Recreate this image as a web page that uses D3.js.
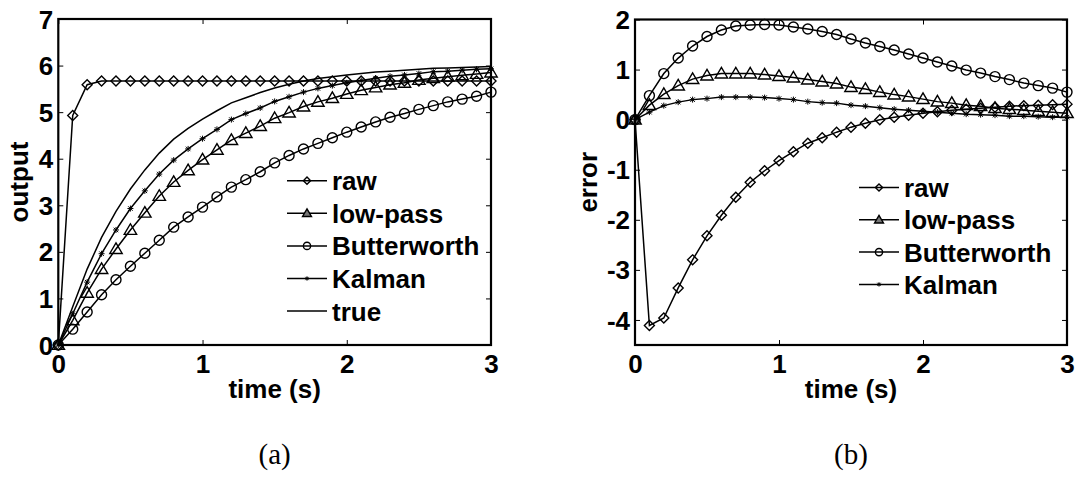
<!DOCTYPE html>
<html><head><meta charset="utf-8">
<script src="https://cdn.jsdelivr.net/npm/d3@7"></script>
<style>
body{margin:0;background:#fff}
svg{display:block}
text{font-family:"Liberation Sans",Arial,sans-serif;font-weight:bold;fill:#000}
text.cap{font-family:"Liberation Serif","Times New Roman",serif;font-weight:normal}
</style>
</head><body>
<svg id="c" width="1076" height="480"></svg>
<script>
// ---- data ----
const time = [0,0.1,0.2,0.3,0.4,0.5,0.6,0.7,0.8,0.9,1.0,1.1,1.2,1.3,1.4,1.5,1.6,1.7,1.8,1.9,2.0,2.1,2.2,2.3,2.4,2.5,2.6,2.7,2.8,2.9,3.0];

// panel (a): output
const rawOut   = [0,4.93,5.59,5.67,5.67,5.67,5.67,5.67,5.67,5.67,5.67,5.67,5.67,5.67,5.67,5.67,5.67,5.67,5.67,5.67,5.67,5.67,5.67,5.67,5.67,5.67,5.67,5.67,5.67,5.67,5.67];
const lowOut   = [0,0.53,1.12,1.63,2.06,2.47,2.84,3.20,3.50,3.75,3.98,4.19,4.40,4.55,4.70,4.87,4.99,5.12,5.22,5.30,5.39,5.47,5.53,5.59,5.63,5.69,5.73,5.76,5.79,5.82,5.85];
const butOut   = [0,0.34,0.71,1.08,1.40,1.69,1.97,2.25,2.53,2.75,2.96,3.18,3.39,3.55,3.72,3.91,4.07,4.21,4.33,4.45,4.57,4.68,4.79,4.89,4.97,5.06,5.14,5.22,5.28,5.34,5.43];
const kalOut   = [0,0.67,1.35,1.96,2.47,2.93,3.31,3.67,3.97,4.21,4.43,4.63,4.84,4.97,5.09,5.23,5.33,5.43,5.51,5.57,5.63,5.68,5.73,5.77,5.80,5.83,5.87,5.88,5.90,5.92,5.93];
const trueOut  = [0,0.82,1.63,2.31,2.87,3.35,3.76,4.12,4.42,4.65,4.85,5.03,5.20,5.31,5.42,5.52,5.60,5.67,5.72,5.76,5.80,5.83,5.86,5.88,5.90,5.92,5.94,5.95,5.96,5.97,5.98];

// panel (b): error
const rawErr   = [0,-4.11,-3.96,-3.36,-2.80,-2.32,-1.91,-1.55,-1.25,-1.02,-0.82,-0.64,-0.47,-0.36,-0.25,-0.15,-0.07,0.00,0.05,0.09,0.13,0.16,0.19,0.21,0.23,0.25,0.27,0.28,0.29,0.30,0.31];
const lowErr   = [0,0.29,0.51,0.68,0.81,0.88,0.92,0.92,0.92,0.90,0.87,0.84,0.80,0.76,0.72,0.65,0.61,0.55,0.50,0.46,0.41,0.36,0.33,0.29,0.27,0.23,0.21,0.19,0.17,0.15,0.13];
const butErr   = [0,0.48,0.92,1.23,1.47,1.66,1.79,1.87,1.89,1.90,1.89,1.85,1.81,1.76,1.70,1.61,1.53,1.46,1.39,1.31,1.23,1.15,1.07,0.99,0.93,0.86,0.80,0.73,0.68,0.63,0.55];
const kalErr   = [0,0.15,0.28,0.35,0.40,0.42,0.45,0.45,0.45,0.44,0.42,0.40,0.36,0.34,0.33,0.29,0.27,0.24,0.21,0.19,0.17,0.15,0.13,0.11,0.10,0.09,0.07,0.07,0.06,0.05,0.05];

const xTicks = [0,1,2,3];
const yTicksA = [0,1,2,3,4,5,6,7];
const yTicksB = [-4,-3,-2,-1,0,1,2];
const namesA = ["raw","low-pass","Butterworth","Kalman","true"];
const namesB = ["raw","low-pass","Butterworth","Kalman"];
const markersA = ["diamond","triangle","circle","star","none"];
const markersB = ["diamond","triangle","circle","star"];
const captions = ["(a)","(b)"];

// ---- drawing ----
const svg = d3.select("#c");
const FONT = '"Liberation Sans",Arial,sans-serif';
const fmt = d => String(d).replace("\u2212","-");

function drawMarker(g, type, x, y, big){
  const k = big ? 1 : 0.72;
  if(type==="diamond"){
    const s = 5*k;
    g.append("path").attr("d",`M${x},${y-s}L${x+s},${y}L${x},${y+s}L${x-s},${y}Z`)
      .attr("fill","none").attr("stroke","#000").attr("stroke-width",1.4);
  } else if(type==="triangle"){
    const w = 6.2*k, h1 = 6.2*k, h2 = 4.4*k;
    g.append("path").attr("d",`M${x},${y-h1}L${x+w},${y+h2}L${x-w},${y+h2}Z`)
      .attr("fill", big ? "none" : "#777").attr("stroke","#000").attr("stroke-width",1.4);
  } else if(type==="circle"){
    g.append("circle").attr("cx",x).attr("cy",y).attr("r",5*k)
      .attr("fill","none").attr("stroke","#000").attr("stroke-width",1.4);
  } else if(type==="star"){
    const s = 3*k;
    g.append("path").attr("d",`M${x-s},${y}L${x+s},${y}M${x},${y-s}L${x},${y+s}M${x-s*0.75},${y-s*0.75}L${x+s*0.75},${y+s*0.75}M${x-s*0.75},${y+s*0.75}L${x+s*0.75},${y-s*0.75}`)
      .attr("fill","none").attr("stroke","#000").attr("stroke-width",1);
  }
}

function panel(opt){
  const x = d3.scaleLinear().domain([0,3]).range([opt.x0,opt.x1]);
  const y = d3.scaleLinear().domain(opt.yDom).range([opt.y1,opt.y0]);
  const g = svg.append("g");

  // series
  opt.series.forEach((s,i)=>{
    const line = d3.line().x((d,j)=>x(time[j])).y(d=>y(d));
    g.append("path").datum(s).attr("d",line)
      .attr("fill","none").attr("stroke","#000").attr("stroke-width",1.5);
    if(opt.markers[i]!=="none"){
      s.forEach((v,j)=>drawMarker(g,opt.markers[i],x(time[j]),y(v),true));
    }
  });

  // axes (MATLAB style box, inward ticks)
  const axB = d3.axisBottom(x).tickValues(xTicks).tickFormat(fmt).tickSizeInner(-5).tickSizeOuter(0).tickPadding(12);
  const axT = d3.axisTop(x).tickValues(xTicks).tickFormat("").tickSizeInner(-5).tickSizeOuter(0);
  const axL = d3.axisLeft(y).tickValues(opt.yTicks).tickFormat(fmt).tickSizeInner(-5).tickSizeOuter(0).tickPadding(5);
  const axR = d3.axisRight(y).tickValues(opt.yTicks).tickFormat("").tickSizeInner(-5).tickSizeOuter(0);
  const gb = g.append("g").attr("transform",`translate(0,${opt.y1})`).call(axB);
  const gt = g.append("g").attr("transform",`translate(0,${opt.y0})`).call(axT);
  const gl = g.append("g").attr("transform",`translate(${opt.x0},0)`).call(axL);
  const gr = g.append("g").attr("transform",`translate(${opt.x1},0)`).call(axR);
  [gb,gt,gl,gr].forEach(a=>{
    a.attr("font-family",null).attr("font-size",null);
    a.select(".domain").remove();
    a.selectAll(".tick line").attr("stroke","#000").attr("stroke-width",1);
    a.selectAll("text").style("font-family",FONT).style("font-weight","bold")
      .style("font-size","26px").attr("fill","#000");
  });
  gb.selectAll("text").attr("dy","0.6em");
  gl.selectAll("text").attr("dy","0.35em");
  g.append("rect").attr("x",opt.x0).attr("y",opt.y0)
    .attr("width",opt.x1-opt.x0).attr("height",opt.y1-opt.y0)
    .attr("fill","none").attr("stroke","#000").attr("stroke-width",2.2);

  // labels
  g.append("text").attr("x",(opt.x0+opt.x1)/2).attr("y",398)
    .attr("text-anchor","middle").attr("font-size",26).text("time (s)");
  g.append("text").attr("transform",`translate(${opt.yLabX},${(opt.y0+opt.y1)/2}) rotate(-90)`)
    .attr("text-anchor","middle").attr("font-size",26).text(opt.yLabel);

  // legend
  opt.names.forEach((n,i)=>{
    const ly = opt.legY + i*opt.legStep;
    g.append("line").attr("x1",opt.legX).attr("x2",opt.legX+40).attr("y1",ly).attr("y2",ly)
      .attr("stroke","#000").attr("stroke-width",1.5);
    if(opt.markers[i]!=="none") drawMarker(g,opt.markers[i],opt.legX+20,ly,false);
    g.append("text").attr("x",opt.legX+45).attr("y",ly+9.5).attr("font-size",26).text(n);
  });

  // caption
  svg.append("text").attr("class","cap").attr("x",(opt.x0+opt.x1)/2).attr("y",464)
    .attr("text-anchor","middle").attr("font-size",29).text(opt.caption);
}

panel({x0:58.3,x1:491,y0:19,y1:345,yDom:[0,7],yTicks:yTicksA,
  series:[rawOut,lowOut,butOut,kalOut,trueOut],markers:markersA,names:namesA,
  yLabel:"output",yLabX:28,legX:287,legY:180.7,legStep:32.6,caption:captions[0]});
panel({x0:635,x1:1067,y0:19.5,y1:345,yDom:[-4.5,2],yTicks:yTicksB,
  series:[rawErr,lowErr,butErr,kalErr],markers:markersB,names:namesB,
  yLabel:"error",yLabX:597,legX:859,legY:187.5,legStep:32.3,caption:captions[1]});
</script>
</body></html>
